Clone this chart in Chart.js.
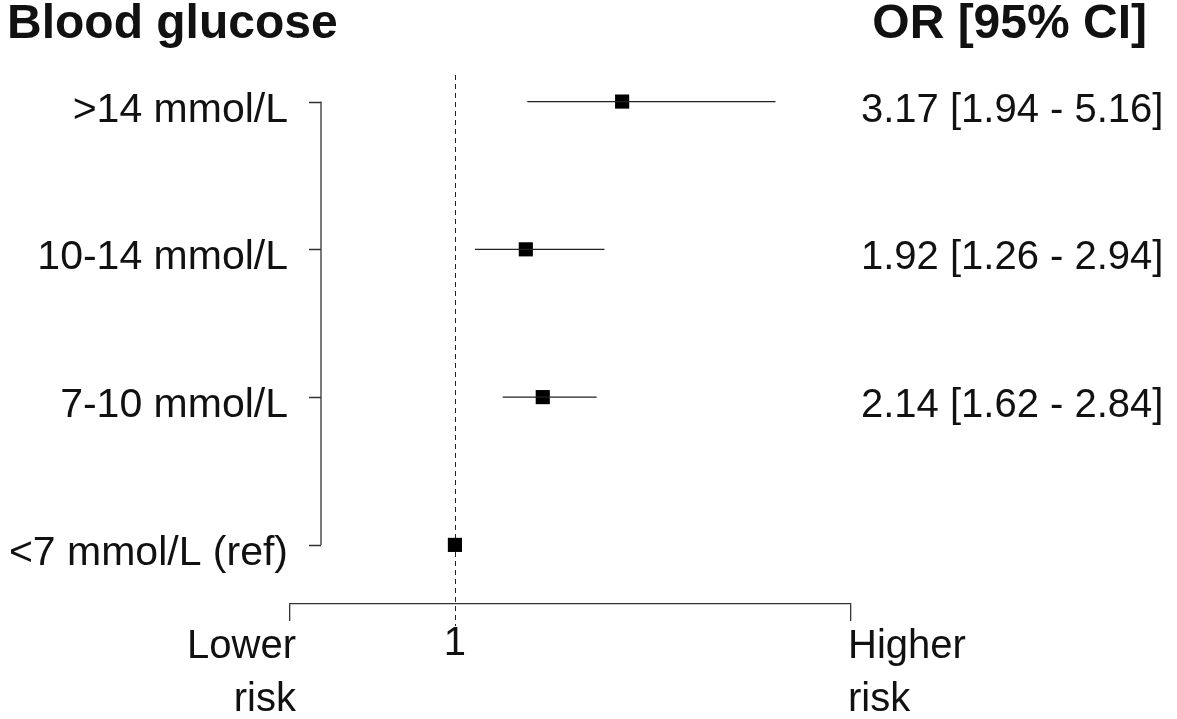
<!DOCTYPE html>
<html>
<head>
<meta charset="utf-8">
<script src="https://cdn.jsdelivr.net/npm/chart.js@4/dist/chart.umd.min.js"></script>
<style>
    html, body { margin: 0; padding: 0; background: #fff; }
    #wrap { width: 1177px; height: 719px; position: relative; }
</style>
</head>
<body>
<div id="wrap"><canvas id="forestPlot"></canvas></div>
<script>
"use strict";

// rows, top to bottom
var categories = ['>14 mmol/L', '10-14 mmol/L', '7-10 mmol/L', '<7 mmol/L (ref)'];
var rowPos = [4, 3, 2, 1];
var oddsRatio = [3.17, 1.92, 2.14, 1];
var ciLow = [1.94, 1.26, 1.62, null];
var ciHigh = [5.16, 2.94, 2.84, null];

// bottom axis
var xTickValues = [-1.14, 1, 6.14];
var xTickLabels = [['Lower', 'risk'], ['1'], ['Higher', 'risk']];

var leftTitle = 'Blood glucose';
var rightTitle = 'OR [95% CI]';

var FONT = "'Liberation Sans', Arial, sans-serif";
var INK = '#111';

function ciLabel(i) {
    if (ciLow[i] === null) return '';
    return oddsRatio[i].toFixed(2) + ' [' + ciLow[i].toFixed(2) + ' - ' + ciHigh[i].toFixed(2) + ']';
}

// one line dataset per confidence interval
var ciSets = [];
categories.forEach(function (c, i) {
    if (ciLow[i] === null) return;
    ciSets.push({
        type: 'line',
        label: c,
        data: [{x: ciLow[i], y: rowPos[i]}, {x: ciHigh[i], y: rowPos[i]}],
        borderColor: '#222',
        borderWidth: 1.3,
        pointRadius: 0,
        fill: false
    });
});

var decor = {
    id: 'decor',
    beforeDatasetsDraw: function (chart) {
        var ctx = chart.ctx, x = chart.scales.x, y = chart.scales.y, area = chart.chartArea;
        ctx.save();
        // reference line at OR = 1
        var x1 = Math.round(x.getPixelForValue(1)) + 0.5;
        ctx.strokeStyle = '#222';
        ctx.lineWidth = 1;
        ctx.setLineDash([5, 4]);
        ctx.beginPath();
        ctx.moveTo(x1, area.top + 3);
        ctx.lineTo(x1, area.bottom + 22);
        ctx.stroke();
        ctx.setLineDash([]);

        // bracket on the left
        var bx = 321;
        ctx.strokeStyle = '#333';
        ctx.lineWidth = 1.3;
        ctx.beginPath();
        ctx.moveTo(bx, y.getPixelForValue(rowPos[0]));
        ctx.lineTo(bx, y.getPixelForValue(rowPos[rowPos.length - 1]));
        rowPos.forEach(function (r) {
            var py = Math.round(y.getPixelForValue(r)) + 0.5;
            ctx.moveTo(bx, py);
            ctx.lineTo(bx - 12, py);
        });
        ctx.stroke();
        ctx.restore();
    },
    afterDraw: function (chart) {
        var ctx = chart.ctx, x = chart.scales.x, y = chart.scales.y;
        ctx.save();
        ctx.fillStyle = INK;
        ctx.textBaseline = 'alphabetic';

        ctx.font = 'bold 48px ' + FONT;
        ctx.textAlign = 'left';
        ctx.fillText(leftTitle, 7, 38);
        ctx.textAlign = 'right';
        ctx.fillText(rightTitle, 1147, 38);

        categories.forEach(function (c, i) {
            var py = y.getPixelForValue(rowPos[i]) + 20;
            ctx.font = '41px ' + FONT;
            ctx.textAlign = 'right';
            ctx.fillText(c, 288, py);
            ctx.font = '40px ' + FONT;
            ctx.textAlign = 'left';
            ctx.fillText(ciLabel(i), 861, py);
        });

        // axis labels
        ctx.font = '40px ' + FONT;
        xTickValues.forEach(function (v, i) {
            var px = x.getPixelForValue(v);
            var lines = xTickLabels[i];
            if (i === 0) { ctx.textAlign = 'right'; px += 6; }
            else if (i === xTickLabels.length - 1) { ctx.textAlign = 'left'; px -= 3; }
            else { ctx.textAlign = 'center'; }
            lines.forEach(function (t, k) {
                var base = (lines.length === 1) ? 655 : 658 + k * 53;
                ctx.fillText(t, px, base);
            });
        });
        ctx.restore();
    }
};

var forestPlot = new Chart(document.getElementById('forestPlot'), {
    type: 'scatter',
    data: {
        datasets: ciSets.concat([{
            type: 'scatter',
            label: 'OR',
            data: categories.map(function (c, i) { return {x: oddsRatio[i], y: rowPos[i]}; }),
            pointStyle: 'rect',
            pointRadius: 10,
            pointHoverRadius: 10,
            backgroundColor: '#000',
            borderColor: '#000',
            borderWidth: 0
        }])
    },
    plugins: [decor],
    options: {
        responsive: true,
        maintainAspectRatio: false,
        animation: false,
        layout: {
            padding: {left: 290, right: 326, top: 72, bottom: 0}
        },
        plugins: {
            legend: {display: false},
            tooltip: {enabled: false}
        },
        scales: {
            x: {
                type: 'linear',
                min: -1.14,
                max: 6.14,
                afterBuildTicks: function (s) {
                    s.ticks = xTickValues.map(function (v) { return {value: v}; });
                },
                afterFit: function (s) { s.height = 115; },
                border: {color: '#333', width: 1.3},
                grid: {
                    drawOnChartArea: false,
                    drawTicks: true,
                    tickLength: 17,
                    lineWidth: 1.3,
                    color: function (c) {
                        return (c.tick && c.tick.value === 1) ? 'rgba(0,0,0,0)' : '#333';
                    }
                },
                ticks: {display: false}
            },
            y: {
                type: 'linear',
                min: 0.6,
                max: 4.2,
                display: false
            }
        }
    }
});
</script>
</body>
</html>
